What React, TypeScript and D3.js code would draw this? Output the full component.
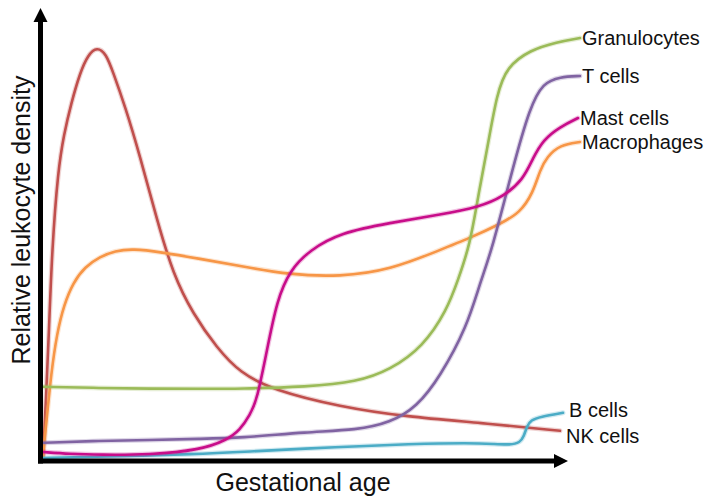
import { useMemo } from 'react';
import * as d3 from 'd3';

type Pt = [number, number];

// gestational age (arbitrary units) vs relative density (arbitrary units)
const granulocytes: Pt[] = [
  [0, 18.3], [11.4, 18], [21.4, 17.8], [31.4, 17.8], [39.4, 17.8], [52.8, 18.3],
  [62.8, 19.5], [69.4, 22.5], [76, 28.3], [80.8, 37.5], [83, 45], [85.4, 53.8],
  [87, 65.8], [88.8, 77.5], [90.8, 91.8], [92.8, 98.3], [97.4, 102.5], [102.8, 104.5],
  [107.4, 105.5],
];
const tCells: Pt[] = [
  [0, 4.3], [11.4, 4.8], [21.4, 5], [31.4, 5.3], [39.4, 5.5], [52.8, 7], [62.8, 7.5],
  [69.4, 9.3], [74.8, 13.3], [79.4, 20.8], [84.8, 33.3], [87.4, 44.3], [89.8, 52.5],
  [94, 73.3], [97.4, 88.3], [100, 94.3], [103.4, 95.8], [107.4, 96],
];
const mastCells: Pt[] = [
  [0, 2], [5.4, 1.5], [11.4, 1.3], [21.4, 1.3], [31.4, 2.5], [36.8, 5], [39.4, 7.5],
  [41.4, 11.3], [42.8, 15], [44.8, 27.5], [46.8, 40], [49.4, 47.5], [53.4, 52.5],
  [59.4, 56.8], [69.4, 59.3], [79.4, 61.3], [87.4, 63.3], [92, 65.8], [96, 70],
  [98, 75.5], [100, 80], [103.4, 83.3], [107, 85.5],
];
const macrophages: Pt[] = [
  [0, 0.8], [0.2, 3.8], [0.8, 10.8], [1.6, 21.3], [2.8, 31.8], [4.2, 38.8], [6, 44.3],
  [8.4, 48.3], [11.4, 50.8], [14.4, 52.3], [18, 52.8], [23.4, 52], [31.4, 50.3],
  [39.4, 48.5], [49.4, 46.3], [59.4, 45.8], [69.4, 47.5], [79.4, 52.5], [85.4, 55.5],
  [91.4, 59], [95.4, 61.8], [98, 66.8], [99.4, 72.5], [100.8, 75.8], [103.4, 78.8],
  [107.4, 79.5],
];
const bCells: Pt[] = [
  [0, 0.5], [11.4, 0.8], [31.4, 1.5], [39.4, 2], [59.4, 3.3], [73.4, 4], [85.4, 4.3],
  [90.4, 4], [93.4, 3.8], [95.4, 4.3], [96.2, 6], [96.8, 8.5], [97.6, 10], [99.4, 10.8],
  [104, 11.8],
];
const nkCells: Pt[] = [
  [0, 0.5], [0.6, 15], [1.2, 32.5], [1.8, 52.5], [3, 72.5], [4.2, 81.5], [5.6, 89],
  [7.4, 96.8], [9, 101.3], [10.8, 103.3], [12.6, 101.6], [14, 97], [16.4, 88.5], [19.4, 76],
  [22.8, 60], [26, 46.5], [30, 36.5], [34.8, 28], [39.4, 21.8], [46, 17.5],
  [59.4, 13.3], [72.8, 10.8], [87.4, 9.3], [103.4, 7.3],
];

const seriesNames = ['Granulocytes', 'T cells', 'Mast cells', 'Macrophages', 'B cells', 'NK cells'];
const seriesData = [granulocytes, tCells, mastCells, macrophages, bCells, nkCells];
const seriesColors = ['#9bbb59', '#8064a2', '#c8118a', '#f79646', '#4bacc6', '#c0504d'];
// draw order (back to front)
const drawOrder = [5, 3, 0, 1, 4, 2];
// label nudge from each line end, px
const labelDx = [2, 2, 2, 2, 6, 6];
const labelDy = [7, 7, 7, 7, 4, 12];

const W = 711;
const H = 499;
const FONT = '"Liberation Sans", Arial, Helvetica, sans-serif';

export default function App() {
  const x = useMemo(() => d3.scaleLinear().domain([0, 105]).range([43, 568]), []);
  const y = useMemo(() => d3.scaleLinear().domain([0, 113]).range([460, 8]), []);

  const line = d3
    .line<Pt>()
    .x((d) => x(d[0]))
    .y((d) => y(d[1]))
    .curve(d3.curveBasis);

  const axisX = 40.5;
  const axisY = 461;
  const yTip = y(113);
  const xTip = x(105);

  return (
    <svg
      width={W}
      height={H}
      viewBox={`0 0 ${W} ${H}`}
      style={{ position: 'absolute', left: 0, top: 0, background: '#fff' }}
    >
      <defs>
        <filter id="soft" x="-5%" y="-5%" width="110%" height="110%">
          <feGaussianBlur stdDeviation="0.4" />
        </filter>
      </defs>

      {drawOrder.map((i) => (
        <g key={seriesNames[i]}>
          <path
            d={line(seriesData[i]) ?? ''}
            fill="none"
            stroke={seriesColors[i]}
            strokeOpacity={0.25}
            strokeWidth={5}
            strokeLinecap="round"
          />
          <path
            d={line(seriesData[i]) ?? ''}
            fill="none"
            stroke={seriesColors[i]}
            strokeWidth={2.6}
            strokeLinecap="round"
            filter="url(#soft)"
          />
        </g>
      ))}

      {/* axes */}
      <line x1={axisX} y1={axisY + 2.5} x2={axisX} y2={yTip + 12} stroke="#000" strokeWidth={5} />
      <path d={`M${axisX},${yTip} L${axisX - 7},${yTip + 14} L${axisX + 7},${yTip + 14} Z`} fill="#000" />
      <line x1={axisX - 2.5} y1={axisY} x2={xTip - 12} y2={axisY} stroke="#000" strokeWidth={5} />
      <path d={`M${xTip},${axisY} L${xTip - 14},${axisY - 7} L${xTip - 14},${axisY + 7} Z`} fill="#000" />

      {/* series labels */}
      {seriesNames.map((name, i) => {
        const last = seriesData[i][seriesData[i].length - 1];
        return (
          <text
            key={name}
            x={x(last[0]) + labelDx[i]}
            y={y(last[1]) + labelDy[i]}
            fontFamily={FONT}
            fontSize={20}
            fill="#111"
          >
            {name}
          </text>
        );
      })}

      <text x={303} y={491} textAnchor="middle" fontFamily={FONT} fontSize={25} fill="#111">
        Gestational age
      </text>
      <text
        transform="translate(30,220) rotate(-90)"
        textAnchor="middle"
        fontFamily={FONT}
        fontSize={25}
        fill="#111"
      >
        Relative leukocyte density
      </text>
    </svg>
  );
}
